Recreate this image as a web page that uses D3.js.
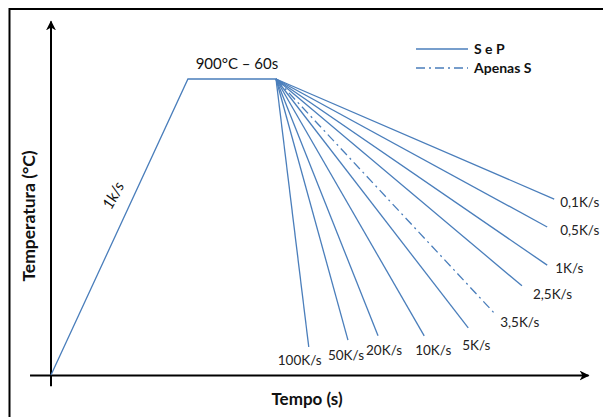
<!DOCTYPE html>
<html><head><meta charset="utf-8">
<script src="https://cdn.jsdelivr.net/npm/d3@7"></script>
<style>body{margin:0;background:#fff} svg{display:block}</style>
</head><body>
<svg id="chart" width="603" height="417"></svg>
<script>
// Schematic thermal cycle: time in arbitrary units, temperature in °C
const rampTime = [0, 25.5];
const rampTemp = [0, 900];
const holdTime = [25.5, 41.9];
const holdTemp = [900, 900];
const rateLabels = ["0,1K/s","0,5K/s","1K/s","2,5K/s","3,5K/s","5K/s","10K/s","20K/s","50K/s","100K/s"];
const rateEndTime = [93.7, 92.4, 92.4, 87.7, 82.9, 77.7, 69.5, 60.9, 55.3, 48.0];
const rateEndTemp = [535, 450, 334, 271, 182, 143, 119, 119, 106, 85];
const rateSeries = ["S e P","S e P","S e P","S e P","Apenas S","S e P","S e P","S e P","S e P","S e P"];
const legendItems = ["S e P", "Apenas S"];
const plateauLabel = "900°C – 60s";
const rampLabel = "1k/s";

// label offsets (layout only)
const labelDx = [6, 13, 8, 11, 4, -6, -9, -12, -20, -31];
const labelDy = [8, 8, 8, 13, 12, 22, 19, 19, 20, 18];

const svg = d3.select("#chart");
const x = d3.scaleLinear().domain([0, 100]).range([51, 588]);
const y = d3.scaleLinear().domain([0, 900]).range([375, 79]);
const blue = "#4A7EBB";
const font = "Lato, 'Open Sans', sans-serif";
const dashStyle = "9,4,2,4";

// frame
svg.append("rect").attr("x", 9.5).attr("y", 9).attr("width", 620).attr("height", 440)
  .attr("fill", "none").attr("stroke", "#000").attr("stroke-width", 2);

// axes
const defs = svg.append("defs");
defs.append("marker").attr("id", "arr").attr("viewBox", "0 0 10 10")
  .attr("refX", 9).attr("refY", 5).attr("markerWidth", 10).attr("markerHeight", 10)
  .attr("markerUnits", "userSpaceOnUse").attr("orient", "auto")
  .append("path").attr("d", "M0,0 L10,5 L0,10 L3,5 Z").attr("fill", "#000");

const xAxisScale = d3.scaleLinear().domain([-4, 100]).range([x(-4), x(100)]);
const gx = svg.append("g").attr("transform", `translate(0,${y(0)})`)
  .call(d3.axisBottom(xAxisScale).tickValues([]).tickSizeOuter(0));
gx.select(".domain").attr("stroke", "#000").attr("stroke-width", 2).attr("marker-end", "url(#arr)");

const yAxisScale = d3.scaleLinear().domain([-34, 1075]).range([y(-34), y(1075)]);
const gy = svg.append("g").attr("transform", `translate(${x(0)},0)`)
  .call(d3.axisLeft(yAxisScale).tickValues([]).tickSizeOuter(0));
gy.select(".domain").attr("stroke", "#000").attr("stroke-width", 2)
  .attr("d", `M0,${y(-34)}V${y(1075)}`).attr("marker-end", "url(#arr)");

// heating ramp and hold
const line = d3.line().x(d => x(d[0])).y(d => y(d[1]));
const path = [[rampTime[0], rampTemp[0]], [rampTime[1], rampTemp[1]], [holdTime[1], holdTemp[1]]];
svg.append("path").attr("d", line(path)).attr("fill", "none")
  .attr("stroke", blue).attr("stroke-width", 1.3);

// cooling fan
const start = [holdTime[1], holdTemp[1]];
rateLabels.forEach((lab, i) => {
  const end = [rateEndTime[i], rateEndTemp[i]];
  svg.append("path").attr("d", line([start, end])).attr("fill", "none")
    .attr("stroke", blue).attr("stroke-width", 1.3)
    .attr("stroke-dasharray", rateSeries[i] === "Apenas S" ? dashStyle : null);
  svg.append("text").attr("x", x(end[0]) + labelDx[i]).attr("y", y(end[1]) + labelDy[i])
    .attr("font-family", font).attr("font-size", 13.5).attr("fill", "#222").text(lab);
});

// plateau label
svg.append("text").attr("x", (x(holdTime[0]) + x(holdTime[1])) / 2 + 5).attr("y", y(900) - 10)
  .attr("text-anchor", "middle").attr("font-family", font).attr("font-size", 15)
  .attr("fill", "#111").text(plateauLabel);

// ramp label
svg.append("text").attr("transform", `translate(118,198) rotate(-62)`)
  .attr("text-anchor", "middle").attr("font-family", font).attr("font-style", "italic")
  .attr("font-size", 15.5).attr("fill", "#111").text(rampLabel);

// legend
legendItems.forEach((name, i) => {
  const ly = 49 + i * 19;
  svg.append("line").attr("x1", 416).attr("x2", 468).attr("y1", ly).attr("y2", ly)
    .attr("stroke", blue).attr("stroke-width", 1.3)
    .attr("stroke-dasharray", name === "Apenas S" ? dashStyle : null);
  svg.append("text").attr("x", 474).attr("y", ly + 5).attr("font-family", font)
    .attr("font-weight", "bold").attr("font-size", 14).attr("fill", "#111").text(name);
});

// axis titles
svg.append("text").attr("x", 307).attr("y", 405).attr("text-anchor", "middle")
  .attr("font-family", font).attr("font-weight", "bold").attr("font-size", 17)
  .attr("fill", "#111").text("Tempo (s)");
svg.append("text").attr("transform", "translate(35,216) rotate(-90)").attr("text-anchor", "middle")
  .attr("font-family", font).attr("font-weight", "bold").attr("font-size", 17.5)
  .attr("fill", "#111").text("Temperatura (°C)");
</script>
</body></html>
